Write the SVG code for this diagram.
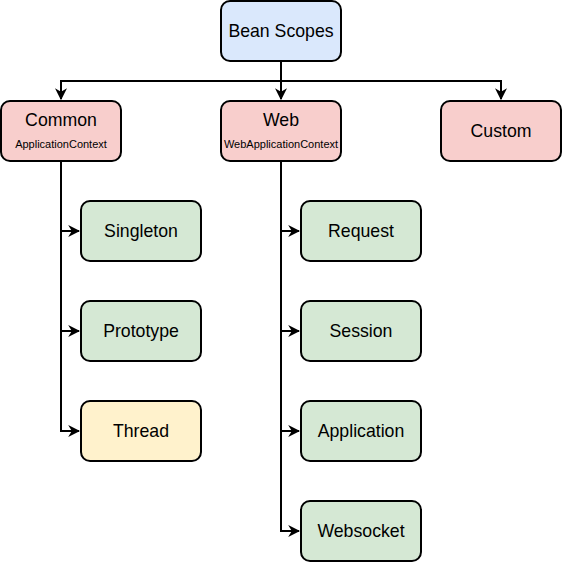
<svg xmlns="http://www.w3.org/2000/svg" width="563" height="563" viewBox="0 0 563 563">
<style>
.box{stroke:#000;stroke-width:2}
.blue{fill:#dae8fc}.red{fill:#f8cecc}.green{fill:#d5e8d4}.yellow{fill:#fff2cc}
text{font-family:"Liberation Sans",Arial,sans-serif;fill:#000;text-anchor:middle}
.t{font-size:17.7px}.s{font-size:11px}
.c{fill:none;stroke:#000;stroke-width:2}
</style>
<defs>
<marker id="a" viewBox="0 0 10 10" refX="9" refY="5" markerWidth="6" markerHeight="6" orient="auto" markerUnits="strokeWidth">
<path d="M0,0 L10,5 L0,10 L3,5 Z" fill="#000"/>
</marker>
</defs>
<rect width="563" height="563" fill="#fff"/>
<g id="connectors">
<path class="c" d="M281,61 V81 H61 V99" marker-end="url(#a)"/>
<path class="c" d="M281,61 V99" marker-end="url(#a)"/>
<path class="c" d="M281,81 H501 V99" marker-end="url(#a)"/>
<path class="c" d="M61,161 V231 H79" marker-end="url(#a)"/>
<path class="c" d="M61,231 V331 H79" marker-end="url(#a)"/>
<path class="c" d="M61,331 V431 H79" marker-end="url(#a)"/>
<path class="c" d="M281,161 V231 H299" marker-end="url(#a)"/>
<path class="c" d="M281,231 V331 H299" marker-end="url(#a)"/>
<path class="c" d="M281,331 V431 H299" marker-end="url(#a)"/>
<path class="c" d="M281,431 V531 H299" marker-end="url(#a)"/>
</g>
<g id="bean-scopes"><rect class="box blue" x="221" y="1" width="120" height="60" rx="9"/><text class="t" x="281" y="37">Bean Scopes</text></g>
<g id="common"><rect class="box red" x="1" y="101" width="120" height="60" rx="9"/><text class="t" x="61" y="126">Common</text><text class="s" x="61" y="148">ApplicationContext</text></g>
<g id="web"><rect class="box red" x="221" y="101" width="120" height="60" rx="9"/><text class="t" x="281" y="126">Web</text><text class="s" x="281" y="148">WebApplicationContext</text></g>
<g id="custom"><rect class="box red" x="441" y="101" width="120" height="60" rx="9"/><text class="t" x="501" y="137">Custom</text></g>
<g id="singleton"><rect class="box green" x="81" y="201" width="120" height="60" rx="9"/><text class="t" x="141" y="237">Singleton</text></g>
<g id="prototype"><rect class="box green" x="81" y="301" width="120" height="60" rx="9"/><text class="t" x="141" y="337">Prototype</text></g>
<g id="thread"><rect class="box yellow" x="81" y="401" width="120" height="60" rx="9"/><text class="t" x="141" y="437">Thread</text></g>
<g id="request"><rect class="box green" x="301" y="201" width="120" height="60" rx="9"/><text class="t" x="361" y="237">Request</text></g>
<g id="session"><rect class="box green" x="301" y="301" width="120" height="60" rx="9"/><text class="t" x="361" y="337">Session</text></g>
<g id="application"><rect class="box green" x="301" y="401" width="120" height="60" rx="9"/><text class="t" x="361" y="437">Application</text></g>
<g id="websocket"><rect class="box green" x="301" y="501" width="120" height="60" rx="9"/><text class="t" x="361" y="537">Websocket</text></g>
</svg>
